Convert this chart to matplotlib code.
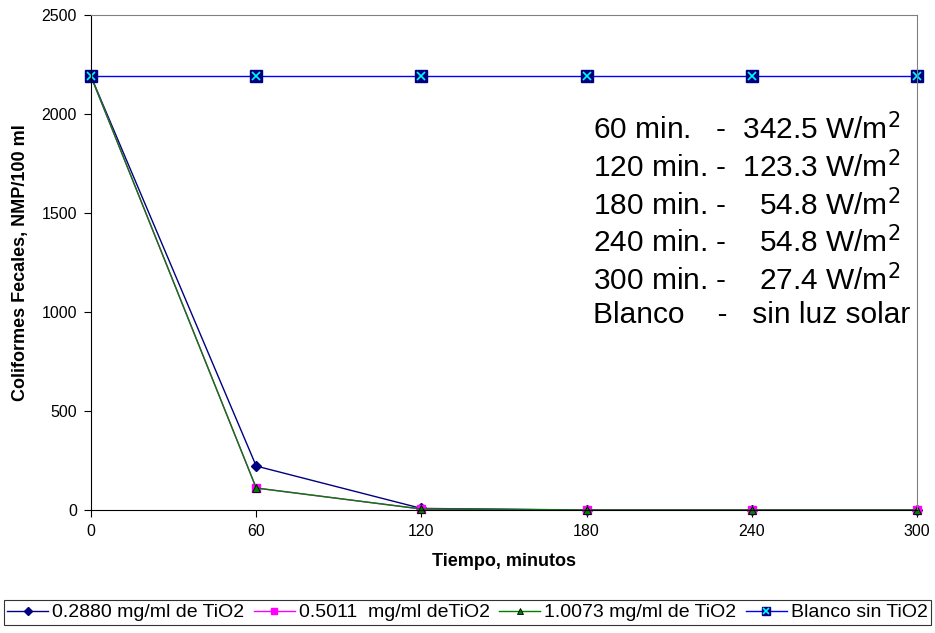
import matplotlib
matplotlib.use("Agg")
import matplotlib.pyplot as plt
from matplotlib.legend_handler import HandlerTuple

plt.rcParams['font.family'] = ['Liberation Sans', 'DejaVu Sans']

tiempo = [0, 60, 120, 180, 240, 300]
s_02880 = [2190, 222, 8, 0, 0, 0]
s_05011 = [2190, 111, 5, 0, 0, 0]
s_10073 = [2190, 111, 5, 0, 0, 0]
blanco = [2190, 2190, 2190, 2190, 2190, 2190]

labels = ['0.2880 mg/ml de TiO2', '0.5011  mg/ml deTiO2',
          '1.0073 mg/ml de TiO2', 'Blanco sin TiO2']

nota = ("60 min.   -  342.5 W/m$^2$\n"
        "120 min. -  123.3 W/m$^2$\n"
        "180 min. -    54.8 W/m$^2$\n"
        "240 min. -    54.8 W/m$^2$\n"
        "300 min. -    27.4 W/m$^2$\n"
        "Blanco    -   sin luz solar")

fig = plt.figure(figsize=(9.35, 6.33), dpi=100)
ax = fig.add_axes([91/935, 1 - 510/633, (917-91)/935, (510-15)/633])

h1, = ax.plot(tiempo, s_02880, color='#000080', lw=1, marker='D', ms=5,
              mfc='#000080', mec='#000080')
h2, = ax.plot(tiempo, s_05011, color='#FF00FF', lw=1, marker='s', ms=6,
              mfc='#FF00FF', mec='#FF00FF')
h3, = ax.plot(tiempo, s_10073, color='#008000', lw=1, marker='^', ms=6,
              mfc='#008000', mec='black', mew=0.6)
h4a, = ax.plot(tiempo, blanco, color='#0000FF', lw=1, marker='s', ms=8,
               mfc='#000080', mec='#000080')
h4b, = ax.plot(tiempo, blanco, ls='none', marker='x', ms=6, mec='#00FFFF', mew=1.2)

ax.set_xlim(0, 300)
ax.set_ylim(0, 2500)
ax.set_xticks(tiempo)
ax.set_yticks(range(0, 2501, 500))
ax.tick_params(labelsize=11.5, direction='out', length=5, width=0.8, pad=5)
for s in ['top', 'right']:
    ax.spines[s].set_color('#808080')
    ax.spines[s].set_linewidth(0.8)
ax.spines['left'].set_linewidth(0.8)
ax.spines['bottom'].set_linewidth(0.8)
for h in (h1, h2, h3, h4a, h4b):
    h.set_clip_on(False)

ax.set_xlabel('Tiempo, minutos', fontsize=13, fontweight='bold', labelpad=10)
ax.set_ylabel('Coliformes Fecales, NMP/100 ml', fontsize=13, fontweight='bold', labelpad=9)

fig.text(593/935, 1 - 113/633, nota, fontsize=21.5, va='top', ha='left',
         linespacing=1.2)

leg = fig.legend([h1, h2, h3, (h4a, h4b)], labels,
                 handler_map={tuple: HandlerTuple(ndivide=1, pad=0)},
                 loc='center', bbox_to_anchor=(467.5/935, 1 - 612.5/633),
                 ncol=4, fontsize=14, frameon=True, fancybox=False,
                 edgecolor='black', handlelength=2.1, handletextpad=0.2,
                 columnspacing=0.5, borderpad=0.2, borderaxespad=0,
                 numpoints=1, markerscale=0.8)
leg.get_frame().set_linewidth(0.8)

fig.savefig('out.png', dpi=100)
